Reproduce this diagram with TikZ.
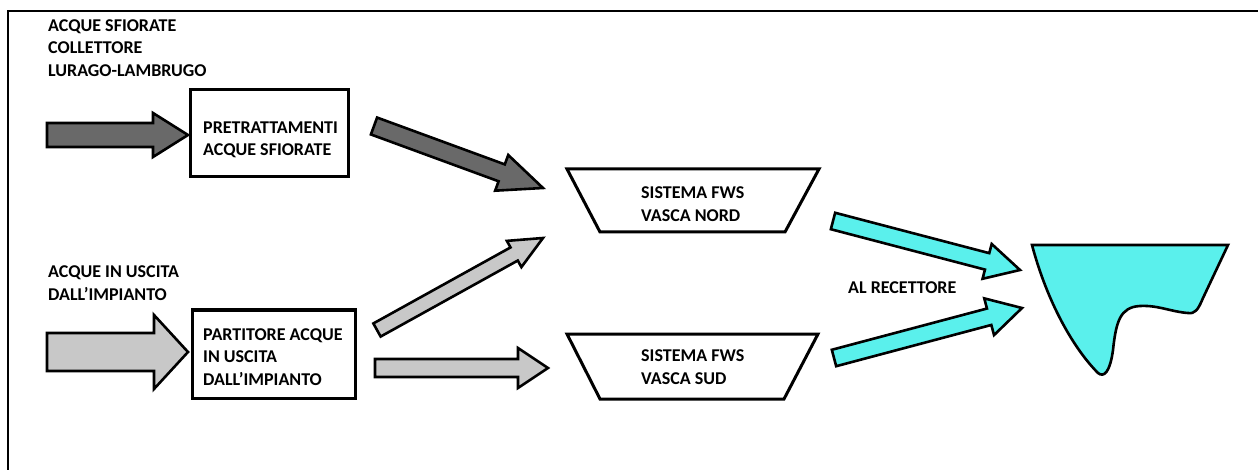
\documentclass[tikz,border=0pt]{standalone}
\usepackage{fontspec}
\setmainfont{Carlito}
\usetikzlibrary{calc}
\definecolor{darkg}{RGB}{105,105,105}
\definecolor{lightg}{RGB}{200,200,200}
\definecolor{cyanw}{RGB}{90,240,236}
\tikzset{
  box/.style={draw=black, line width=3pt, fill=white},
  lbl/.style={font=\fontsize{18}{22.5}\selectfont\bfseries, align=left, inner sep=0pt},
  barrow/.style={draw=black, line width=2.6pt, line join=miter},
}
% \blockarrow{style}{A}{B}{shaft half}{head half}{head length}
\newcommand\blockarrow[6]{%
  \path[barrow,#1]
    ($(#2)!#4!90:(#3)$) --
    ($($(#3)!#6!(#2)$)!#4!-90:(#2)$) --
    ($($(#3)!#6!(#2)$)!#5!-90:(#2)$) --
    (#3) --
    ($($(#3)!#6!(#2)$)!#5!90:(#2)$) --
    ($($(#3)!#6!(#2)$)!#4!90:(#2)$) --
    ($(#2)!#4!-90:(#3)$) -- cycle;}
\begin{document}
\begin{tikzpicture}[x=1pt,y=-1pt]
\useasboundingbox (0,0) rectangle (1258,470);
% frame
\draw[line width=2.5pt] (8,470) -- (8,11) -- (1258,11);

% labels
\node[lbl, anchor=west] (lsf) at (48,48) {ACQUE SFIORATE\\COLLETTORE\\LURAGO-LAMBRUGO};
\node[lbl, anchor=west] (lus) at (48,283) {ACQUE IN USCITA\\DALL’IMPIANTO};
\node[lbl, anchor=west] (lrec) at (848,288) {AL RECETTORE};

% boxes
\draw[box] (190,90) rectangle (348,177);
\node[lbl, anchor=west] (pre) at (203,140) {PRETRATTAMENTI\\ACQUE SFIORATE};
\draw[box] (192,310) rectangle (355,398);
\node[lbl, anchor=west] (par) at (203,357) {PARTITORE ACQUE\\IN USCITA\\DALL’IMPIANTO};

% trapezoids
\draw[box] (567,169) -- (819,169) -- (785,232) -- (600,232) -- cycle;
\node[lbl, anchor=west] (nord) at (641,204) {SISTEMA FWS\\VASCA NORD};
\draw[box] (567,334) -- (818,334) -- (784,399) -- (600,399) -- cycle;
\node[lbl, anchor=west] (sud) at (641,367) {SISTEMA FWS\\VASCA SUD};

% receiver
\draw[line width=2.6pt, fill=cyanw] (1032,245) -- (1228,245) -- (1203,298)
  .. controls (1198,310) and (1195,314) .. (1188,313)
  .. controls (1172,312) and (1158,305) .. (1140,306)
  .. controls (1120,307) and (1116,322) .. (1113,350)
  .. controls (1110,372) and (1104,378) .. (1098,373)
  .. controls (1075,350) and (1048,305) .. cycle;
\coordinate (rec) at (1120,290);

% arrow coordinates
\coordinate (a1s) at (47,135);  \coordinate (a1e) at (188,135);
\coordinate (a2s) at (47,352);  \coordinate (a2e) at (188,352);
\coordinate (a3s) at (374,126); \coordinate (a3e) at (543,188);
\coordinate (a4s) at (377,330); \coordinate (a4e) at (543,238);
\coordinate (a5s) at (375,368); \coordinate (a5e) at (548,368);
\coordinate (c1s) at (833,221); \coordinate (c1e) at (1020,270);
\coordinate (c2s) at (834,358); \coordinate (c2e) at (1022,308);

\blockarrow{fill=darkg}{a1s}{a1e}{12pt}{22pt}{35pt}
\blockarrow{fill=lightg}{a2s}{a2e}{19pt}{37pt}{34pt}
\blockarrow{fill=darkg}{a3s}{a3e}{9pt}{19pt}{44pt}
\blockarrow{fill=lightg}{a4s}{a4e}{7.5pt}{15pt}{33pt}
\blockarrow{fill=lightg}{a5s}{a5e}{9pt}{20pt}{30pt}
\blockarrow{fill=cyanw}{c1s}{c1e}{8.5pt}{18pt}{34pt}
\blockarrow{fill=cyanw}{c2s}{c2e}{8.5pt}{19pt}{34pt}
\end{tikzpicture}
\end{document}
